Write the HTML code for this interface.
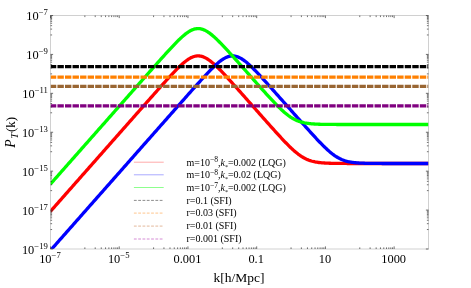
<!DOCTYPE html><html><head><meta charset="utf-8"><style>html,body{margin:0;padding:0;background:#fff}svg{display:block;will-change:transform;opacity:0.999}text{font-family:"Liberation Serif",serif;fill:#000}</style></head><body>
<svg width="471" height="288" viewBox="0 0 471 288">
<rect width="471" height="288" fill="#fff"/>
<defs><clipPath id="c"><rect x="50.50" y="15.50" width="378.00" height="233.50"/></clipPath></defs>
<g clip-path="url(#c)" fill="none" stroke-width="3.3" stroke-linejoin="round">
<path d="M50.50,211.34 L51.44,210.27 L52.39,209.20 L53.33,208.13 L54.28,207.06 L55.23,205.99 L56.17,204.92 L57.11,203.85 L58.06,202.78 L59.00,201.71 L59.95,200.64 L60.90,199.57 L61.84,198.50 L62.78,197.43 L63.73,196.36 L64.67,195.29 L65.62,194.22 L66.57,193.15 L67.51,192.08 L68.45,191.01 L69.40,189.94 L70.34,188.87 L71.29,187.80 L72.24,186.73 L73.18,185.66 L74.12,184.59 L75.07,183.52 L76.01,182.45 L76.96,181.38 L77.91,180.31 L78.85,179.24 L79.80,178.16 L80.74,177.09 L81.69,176.02 L82.63,174.95 L83.58,173.88 L84.52,172.81 L85.47,171.74 L86.41,170.67 L87.35,169.60 L88.30,168.53 L89.24,167.46 L90.19,166.39 L91.14,165.32 L92.08,164.25 L93.03,163.18 L93.97,162.11 L94.92,161.04 L95.86,159.97 L96.81,158.90 L97.75,157.83 L98.69,156.76 L99.64,155.69 L100.58,154.62 L101.53,153.55 L102.48,152.48 L103.42,151.41 L104.37,150.34 L105.31,149.27 L106.26,148.20 L107.20,147.13 L108.15,146.06 L109.09,144.99 L110.03,143.92 L110.98,142.85 L111.92,141.78 L112.87,140.71 L113.82,139.64 L114.76,138.57 L115.70,137.50 L116.65,136.43 L117.59,135.36 L118.54,134.29 L119.49,133.22 L120.43,132.15 L121.38,131.08 L122.32,130.01 L123.27,128.94 L124.21,127.87 L125.15,126.80 L126.10,125.73 L127.05,124.66 L127.99,123.59 L128.94,122.52 L129.88,121.45 L130.83,120.38 L131.77,119.31 L132.72,118.24 L133.66,117.17 L134.61,116.10 L135.55,115.03 L136.50,113.96 L137.44,112.89 L138.38,111.82 L139.33,110.75 L140.28,109.68 L141.22,108.61 L142.17,107.54 L143.11,106.47 L144.06,105.40 L145.00,104.33 L145.94,103.27 L146.89,102.20 L147.83,101.13 L148.78,100.06 L149.73,99.00 L150.67,97.93 L151.62,96.86 L152.56,95.80 L153.51,94.73 L154.45,93.67 L155.40,92.60 L156.34,91.54 L157.29,90.48 L158.23,89.42 L159.18,88.36 L160.12,87.30 L161.06,86.24 L162.01,85.19 L162.96,84.14 L163.90,83.09 L164.85,82.04 L165.79,81.00 L166.74,79.96 L167.68,78.92 L168.62,77.89 L169.57,76.86 L170.52,75.84 L171.46,74.82 L172.41,73.82 L173.35,72.82 L174.30,71.83 L175.24,70.85 L176.19,69.88 L177.13,68.92 L178.07,67.98 L179.02,67.06 L179.97,66.15 L180.91,65.26 L181.86,64.40 L182.80,63.56 L183.75,62.75 L184.69,61.96 L185.64,61.22 L186.58,60.50 L187.53,59.83 L188.47,59.20 L189.42,58.61 L190.36,58.08 L191.31,57.59 L192.25,57.17 L193.20,56.80 L194.14,56.49 L195.09,56.24 L196.03,56.06 L196.98,55.95 L197.92,55.90 L198.87,55.92 L199.81,56.01 L200.75,56.17 L201.70,56.39 L202.65,56.67 L203.59,57.02 L204.54,57.42 L205.48,57.89 L206.43,58.40 L207.37,58.97 L208.32,59.58 L209.26,60.24 L210.21,60.94 L211.15,61.67 L212.09,62.44 L213.04,63.25 L213.99,64.07 L214.93,64.93 L215.88,65.81 L216.82,66.71 L217.77,67.63 L218.71,68.56 L219.66,69.51 L220.60,70.47 L221.55,71.45 L222.49,72.44 L223.44,73.43 L224.38,74.44 L225.33,75.45 L226.27,76.47 L227.22,77.50 L228.16,78.53 L229.11,79.56 L230.05,80.60 L231.00,81.64 L231.94,82.69 L232.89,83.74 L233.83,84.79 L234.78,85.84 L235.72,86.90 L236.67,87.95 L237.61,89.01 L238.56,90.07 L239.50,91.13 L240.45,92.20 L241.39,93.26 L242.34,94.32 L243.28,95.39 L244.23,96.45 L245.17,97.52 L246.12,98.58 L247.06,99.65 L248.00,100.72 L248.95,101.79 L249.90,102.85 L250.84,103.92 L251.79,104.99 L252.73,106.05 L253.68,107.12 L254.62,108.19 L255.57,109.26 L256.51,110.33 L257.46,111.39 L258.40,112.46 L259.35,113.53 L260.29,114.59 L261.24,115.66 L262.18,116.72 L263.12,117.79 L264.07,118.86 L265.01,119.92 L265.96,120.98 L266.91,122.05 L267.85,123.11 L268.80,124.17 L269.74,125.23 L270.69,126.28 L271.63,127.34 L272.58,128.39 L273.52,129.45 L274.47,130.50 L275.41,131.54 L276.36,132.59 L277.30,133.63 L278.25,134.67 L279.19,135.70 L280.13,136.73 L281.08,137.75 L282.02,138.76 L282.97,139.77 L283.92,140.78 L284.86,141.77 L285.81,142.75 L286.75,143.72 L287.70,144.69 L288.64,145.63 L289.59,146.57 L290.53,147.49 L291.48,148.39 L292.42,149.27 L293.37,150.13 L294.31,150.97 L295.25,151.78 L296.20,152.57 L297.15,153.33 L298.09,154.07 L299.04,154.77 L299.98,155.45 L300.93,156.09 L301.87,156.70 L302.82,157.27 L303.76,157.81 L304.71,158.32 L305.65,158.79 L306.60,159.23 L307.54,159.64 L308.49,160.02 L309.43,160.37 L310.38,160.68 L311.32,160.97 L312.27,161.24 L313.21,161.48 L314.16,161.69 L315.10,161.89 L316.05,162.07 L316.99,162.22 L317.94,162.37 L318.88,162.49 L319.83,162.61 L320.77,162.71 L321.72,162.80 L322.66,162.88 L323.61,162.95 L324.55,163.01 L325.50,163.07 L326.44,163.12 L327.38,163.16 L328.33,163.20 L329.28,163.24 L330.22,163.27 L331.17,163.30 L332.11,163.32 L333.06,163.34 L334.00,163.36 L334.95,163.38 L335.89,163.39 L336.84,163.40 L337.78,163.42 L338.73,163.43 L339.67,163.43 L340.62,163.44 L341.56,163.45 L342.51,163.46 L343.45,163.46 L344.40,163.47 L345.34,163.47 L346.29,163.47 L347.23,163.48 L348.18,163.48 L349.12,163.48 L350.06,163.48 L351.01,163.49 L351.96,163.49 L352.90,163.49 L353.85,163.49 L354.79,163.49 L355.74,163.49 L356.68,163.49 L357.63,163.49 L358.57,163.49 L359.52,163.50 L360.46,163.50 L361.41,163.50 L362.35,163.50 L363.30,163.50 L364.24,163.50 L365.19,163.50 L366.13,163.50 L367.08,163.50 L368.02,163.50 L368.97,163.50 L369.91,163.50 L370.86,163.50 L371.80,163.50 L372.75,163.50 L373.69,163.50 L374.63,163.50 L375.58,163.50 L376.53,163.50 L377.47,163.50 L378.42,163.50 L379.36,163.50 L380.31,163.50 L381.25,163.50 L382.20,163.50 L383.14,163.50 L384.09,163.50 L385.03,163.50 L385.98,163.50 L386.92,163.50 L387.87,163.50 L388.81,163.50 L389.76,163.50 L390.70,163.50 L391.65,163.50 L392.59,163.50 L393.54,163.50 L394.48,163.50 L395.43,163.50 L396.37,163.50 L397.31,163.50 L398.26,163.50 L399.21,163.50 L400.15,163.50 L401.10,163.50 L402.04,163.50 L402.99,163.50 L403.93,163.50 L404.88,163.50 L405.82,163.50 L406.77,163.50 L407.71,163.50 L408.66,163.50 L409.60,163.50 L410.55,163.50 L411.49,163.50 L412.44,163.50 L413.38,163.50 L414.33,163.50 L415.27,163.50 L416.22,163.50 L417.16,163.50 L418.11,163.50 L419.05,163.50 L420.00,163.50 L420.94,163.50 L421.88,163.50 L422.83,163.50 L423.78,163.50 L424.72,163.50 L425.67,163.50 L426.61,163.50 L427.56,163.50 L428.50,163.50" stroke="#ff0000"/>
<path d="M50.50,250.41 L51.44,249.34 L52.39,248.27 L53.33,247.20 L54.28,246.13 L55.23,245.06 L56.17,243.99 L57.11,242.92 L58.06,241.85 L59.00,240.78 L59.95,239.71 L60.90,238.64 L61.84,237.57 L62.78,236.50 L63.73,235.43 L64.67,234.36 L65.62,233.29 L66.57,232.22 L67.51,231.15 L68.45,230.08 L69.40,229.01 L70.34,227.94 L71.29,226.87 L72.24,225.80 L73.18,224.73 L74.12,223.66 L75.07,222.59 L76.01,221.52 L76.96,220.45 L77.91,219.38 L78.85,218.31 L79.80,217.24 L80.74,216.17 L81.69,215.10 L82.63,214.03 L83.58,212.96 L84.52,211.88 L85.47,210.81 L86.41,209.74 L87.35,208.67 L88.30,207.60 L89.24,206.53 L90.19,205.46 L91.14,204.39 L92.08,203.32 L93.03,202.25 L93.97,201.18 L94.92,200.11 L95.86,199.04 L96.81,197.97 L97.75,196.90 L98.69,195.83 L99.64,194.76 L100.58,193.69 L101.53,192.62 L102.48,191.55 L103.42,190.48 L104.37,189.41 L105.31,188.34 L106.26,187.27 L107.20,186.20 L108.15,185.13 L109.09,184.06 L110.03,182.99 L110.98,181.92 L111.92,180.85 L112.87,179.78 L113.82,178.71 L114.76,177.64 L115.70,176.57 L116.65,175.50 L117.59,174.43 L118.54,173.36 L119.49,172.29 L120.43,171.22 L121.38,170.15 L122.32,169.08 L123.27,168.01 L124.21,166.94 L125.15,165.87 L126.10,164.80 L127.05,163.73 L127.99,162.66 L128.94,161.59 L129.88,160.51 L130.83,159.44 L131.77,158.37 L132.72,157.30 L133.66,156.23 L134.61,155.16 L135.55,154.09 L136.50,153.02 L137.44,151.95 L138.38,150.88 L139.33,149.81 L140.28,148.74 L141.22,147.67 L142.17,146.60 L143.11,145.53 L144.06,144.46 L145.00,143.39 L145.94,142.32 L146.89,141.25 L147.83,140.18 L148.78,139.11 L149.73,138.04 L150.67,136.97 L151.62,135.90 L152.56,134.83 L153.51,133.76 L154.45,132.69 L155.40,131.62 L156.34,130.55 L157.29,129.48 L158.23,128.41 L159.18,127.34 L160.12,126.27 L161.06,125.20 L162.01,124.13 L162.96,123.06 L163.90,121.99 L164.85,120.92 L165.79,119.85 L166.74,118.78 L167.68,117.71 L168.62,116.64 L169.57,115.57 L170.52,114.50 L171.46,113.43 L172.41,112.36 L173.35,111.29 L174.30,110.22 L175.24,109.15 L176.19,108.08 L177.13,107.01 L178.07,105.95 L179.02,104.88 L179.97,103.81 L180.91,102.74 L181.86,101.67 L182.80,100.60 L183.75,99.54 L184.69,98.47 L185.64,97.40 L186.58,96.34 L187.53,95.27 L188.47,94.21 L189.42,93.14 L190.36,92.08 L191.31,91.02 L192.25,89.96 L193.20,88.90 L194.14,87.84 L195.09,86.78 L196.03,85.73 L196.98,84.67 L197.92,83.62 L198.87,82.57 L199.81,81.53 L200.75,80.48 L201.70,79.45 L202.65,78.41 L203.59,77.38 L204.54,76.36 L205.48,75.34 L206.43,74.33 L207.37,73.32 L208.32,72.33 L209.26,71.34 L210.21,70.37 L211.15,69.40 L212.09,68.46 L213.04,67.52 L213.99,66.61 L214.93,65.71 L215.88,64.83 L216.82,63.98 L217.77,63.15 L218.71,62.36 L219.66,61.59 L220.60,60.86 L221.55,60.17 L222.49,59.51 L223.44,58.90 L224.38,58.34 L225.33,57.83 L226.27,57.38 L227.22,56.98 L228.16,56.64 L229.11,56.36 L230.05,56.15 L231.00,56.00 L231.94,55.92 L232.89,55.90 L233.83,55.96 L234.78,56.08 L235.72,56.27 L236.67,56.52 L237.61,56.83 L238.56,57.21 L239.50,57.65 L240.45,58.13 L241.39,58.68 L242.34,59.27 L243.28,59.90 L244.23,60.58 L245.17,61.30 L246.12,62.05 L247.06,62.83 L248.00,63.65 L248.95,64.49 L249.90,65.36 L250.84,66.25 L251.79,67.16 L252.73,68.08 L253.68,69.03 L254.62,69.98 L255.57,70.95 L256.51,71.94 L257.46,72.93 L258.40,73.93 L259.35,74.94 L260.29,75.95 L261.24,76.97 L262.18,78.00 L263.12,79.03 L264.07,80.07 L265.01,81.11 L265.96,82.16 L266.91,83.20 L267.85,84.25 L268.80,85.31 L269.74,86.36 L270.69,87.42 L271.63,88.48 L272.58,89.53 L273.52,90.60 L274.47,91.66 L275.41,92.72 L276.36,93.78 L277.30,94.85 L278.25,95.91 L279.19,96.98 L280.13,98.04 L281.08,99.11 L282.02,100.18 L282.97,101.24 L283.92,102.31 L284.86,103.38 L285.81,104.45 L286.75,105.51 L287.70,106.58 L288.64,107.65 L289.59,108.72 L290.53,109.78 L291.48,110.85 L292.42,111.92 L293.37,112.98 L294.31,114.05 L295.25,115.12 L296.20,116.18 L297.15,117.25 L298.09,118.31 L299.04,119.38 L299.98,120.44 L300.93,121.51 L301.87,122.57 L302.82,123.63 L303.76,124.69 L304.71,125.75 L305.65,126.80 L306.60,127.86 L307.54,128.91 L308.49,129.96 L309.43,131.01 L310.38,132.06 L311.32,133.10 L312.27,134.14 L313.21,135.17 L314.16,136.20 L315.10,137.23 L316.05,138.25 L316.99,139.26 L317.94,140.27 L318.88,141.27 L319.83,142.25 L320.77,143.23 L321.72,144.20 L322.66,145.15 L323.61,146.10 L324.55,147.02 L325.50,147.93 L326.44,148.82 L327.38,149.69 L328.33,150.54 L329.28,151.37 L330.22,152.17 L331.17,152.95 L332.11,153.70 L333.06,154.42 L334.00,155.11 L334.95,155.77 L335.89,156.39 L336.84,156.98 L337.78,157.54 L338.73,158.07 L339.67,158.56 L340.62,159.01 L341.56,159.44 L342.51,159.83 L343.45,160.19 L344.40,160.53 L345.34,160.83 L346.29,161.11 L347.23,161.36 L348.18,161.59 L349.12,161.79 L350.06,161.98 L351.01,162.15 L351.96,162.30 L352.90,162.43 L353.85,162.55 L354.79,162.66 L355.74,162.75 L356.68,162.84 L357.63,162.92 L358.57,162.98 L359.52,163.04 L360.46,163.10 L361.41,163.14 L362.35,163.18 L363.30,163.22 L364.24,163.25 L365.19,163.28 L366.13,163.31 L367.08,163.33 L368.02,163.35 L368.97,163.37 L369.91,163.38 L370.86,163.40 L371.80,163.41 L372.75,163.42 L373.69,163.43 L374.63,163.44 L375.58,163.45 L376.53,163.45 L377.47,163.46 L378.42,163.46 L379.36,163.47 L380.31,163.47 L381.25,163.47 L382.20,163.48 L383.14,163.48 L384.09,163.48 L385.03,163.48 L385.98,163.49 L386.92,163.49 L387.87,163.49 L388.81,163.49 L389.76,163.49 L390.70,163.49 L391.65,163.49 L392.59,163.49 L393.54,163.50 L394.48,163.50 L395.43,163.50 L396.37,163.50 L397.31,163.50 L398.26,163.50 L399.21,163.50 L400.15,163.50 L401.10,163.50 L402.04,163.50 L402.99,163.50 L403.93,163.50 L404.88,163.50 L405.82,163.50 L406.77,163.50 L407.71,163.50 L408.66,163.50 L409.60,163.50 L410.55,163.50 L411.49,163.50 L412.44,163.50 L413.38,163.50 L414.33,163.50 L415.27,163.50 L416.22,163.50 L417.16,163.50 L418.11,163.50 L419.05,163.50 L420.00,163.50 L420.94,163.50 L421.88,163.50 L422.83,163.50 L423.78,163.50 L424.72,163.50 L425.67,163.50 L426.61,163.50 L427.56,163.50 L428.50,163.50" stroke="#0000ff"/>
<path d="M50.50,184.04 L51.44,182.97 L52.39,181.90 L53.33,180.83 L54.28,179.76 L55.23,178.69 L56.17,177.62 L57.11,176.55 L58.06,175.48 L59.00,174.41 L59.95,173.34 L60.90,172.27 L61.84,171.20 L62.78,170.13 L63.73,169.06 L64.67,167.99 L65.62,166.92 L66.57,165.85 L67.51,164.78 L68.45,163.71 L69.40,162.64 L70.34,161.57 L71.29,160.50 L72.24,159.43 L73.18,158.36 L74.12,157.29 L75.07,156.22 L76.01,155.15 L76.96,154.08 L77.91,153.01 L78.85,151.93 L79.80,150.86 L80.74,149.79 L81.69,148.72 L82.63,147.65 L83.58,146.58 L84.52,145.51 L85.47,144.44 L86.41,143.37 L87.35,142.30 L88.30,141.23 L89.24,140.16 L90.19,139.09 L91.14,138.02 L92.08,136.95 L93.03,135.88 L93.97,134.81 L94.92,133.74 L95.86,132.67 L96.81,131.60 L97.75,130.53 L98.69,129.46 L99.64,128.39 L100.58,127.32 L101.53,126.25 L102.48,125.18 L103.42,124.11 L104.37,123.04 L105.31,121.97 L106.26,120.90 L107.20,119.83 L108.15,118.76 L109.09,117.69 L110.03,116.62 L110.98,115.55 L111.92,114.48 L112.87,113.41 L113.82,112.34 L114.76,111.27 L115.70,110.20 L116.65,109.13 L117.59,108.06 L118.54,106.99 L119.49,105.92 L120.43,104.85 L121.38,103.78 L122.32,102.71 L123.27,101.64 L124.21,100.57 L125.15,99.50 L126.10,98.43 L127.05,97.36 L127.99,96.29 L128.94,95.22 L129.88,94.15 L130.83,93.08 L131.77,92.01 L132.72,90.94 L133.66,89.87 L134.61,88.80 L135.55,87.73 L136.50,86.66 L137.44,85.59 L138.38,84.52 L139.33,83.45 L140.28,82.38 L141.22,81.31 L142.17,80.24 L143.11,79.17 L144.06,78.10 L145.00,77.03 L145.94,75.97 L146.89,74.90 L147.83,73.83 L148.78,72.76 L149.73,71.70 L150.67,70.63 L151.62,69.56 L152.56,68.50 L153.51,67.43 L154.45,66.37 L155.40,65.30 L156.34,64.24 L157.29,63.18 L158.23,62.12 L159.18,61.06 L160.12,60.00 L161.06,58.94 L162.01,57.89 L162.96,56.84 L163.90,55.79 L164.85,54.74 L165.79,53.70 L166.74,52.66 L167.68,51.62 L168.62,50.59 L169.57,49.56 L170.52,48.54 L171.46,47.52 L172.41,46.52 L173.35,45.52 L174.30,44.53 L175.24,43.55 L176.19,42.58 L177.13,41.62 L178.07,40.68 L179.02,39.76 L179.97,38.85 L180.91,37.96 L181.86,37.10 L182.80,36.26 L183.75,35.45 L184.69,34.66 L185.64,33.92 L186.58,33.20 L187.53,32.53 L188.47,31.90 L189.42,31.31 L190.36,30.78 L191.31,30.29 L192.25,29.87 L193.20,29.50 L194.14,29.19 L195.09,28.94 L196.03,28.76 L196.98,28.65 L197.92,28.60 L198.87,28.62 L199.81,28.71 L200.75,28.87 L201.70,29.09 L202.65,29.37 L203.59,29.72 L204.54,30.12 L205.48,30.59 L206.43,31.10 L207.37,31.67 L208.32,32.28 L209.26,32.94 L210.21,33.64 L211.15,34.37 L212.09,35.14 L213.04,35.95 L213.99,36.77 L214.93,37.63 L215.88,38.51 L216.82,39.41 L217.77,40.33 L218.71,41.26 L219.66,42.21 L220.60,43.17 L221.55,44.15 L222.49,45.14 L223.44,46.13 L224.38,47.14 L225.33,48.15 L226.27,49.17 L227.22,50.19 L228.16,51.22 L229.11,52.26 L230.05,53.30 L231.00,54.34 L231.94,55.39 L232.89,56.44 L233.83,57.49 L234.78,58.54 L235.72,59.59 L236.67,60.65 L237.61,61.71 L238.56,62.77 L239.50,63.83 L240.45,64.89 L241.39,65.95 L242.34,67.02 L243.28,68.08 L244.23,69.14 L245.17,70.21 L246.12,71.27 L247.06,72.34 L248.00,73.40 L248.95,74.47 L249.90,75.53 L250.84,76.60 L251.79,77.66 L252.73,78.73 L253.68,79.79 L254.62,80.85 L255.57,81.92 L256.51,82.98 L257.46,84.04 L258.40,85.10 L259.35,86.16 L260.29,87.22 L261.24,88.27 L262.18,89.33 L263.12,90.38 L264.07,91.43 L265.01,92.47 L265.96,93.52 L266.91,94.56 L267.85,95.60 L268.80,96.63 L269.74,97.66 L270.69,98.68 L271.63,99.70 L272.58,100.71 L273.52,101.71 L274.47,102.70 L275.41,103.69 L276.36,104.66 L277.30,105.62 L278.25,106.57 L279.19,107.51 L280.13,108.42 L281.08,109.33 L282.02,110.21 L282.97,111.07 L283.92,111.91 L284.86,112.73 L285.81,113.52 L286.75,114.28 L287.70,115.02 L288.64,115.73 L289.59,116.40 L290.53,117.05 L291.48,117.66 L292.42,118.23 L293.37,118.78 L294.31,119.29 L295.25,119.76 L296.20,120.21 L297.15,120.62 L298.09,120.99 L299.04,121.34 L299.98,121.66 L300.93,121.95 L301.87,122.22 L302.82,122.46 L303.76,122.68 L304.71,122.88 L305.65,123.05 L306.60,123.21 L307.54,123.36 L308.49,123.48 L309.43,123.60 L310.38,123.70 L311.32,123.79 L312.27,123.87 L313.21,123.95 L314.16,124.01 L315.10,124.07 L316.05,124.12 L316.99,124.16 L317.94,124.20 L318.88,124.24 L319.83,124.27 L320.77,124.29 L321.72,124.32 L322.66,124.34 L323.61,124.36 L324.55,124.38 L325.50,124.39 L326.44,124.40 L327.38,124.41 L328.33,124.42 L329.28,124.43 L330.22,124.44 L331.17,124.45 L332.11,124.45 L333.06,124.46 L334.00,124.46 L334.95,124.47 L335.89,124.47 L336.84,124.48 L337.78,124.48 L338.73,124.48 L339.67,124.48 L340.62,124.49 L341.56,124.49 L342.51,124.49 L343.45,124.49 L344.40,124.49 L345.34,124.49 L346.29,124.49 L347.23,124.49 L348.18,124.49 L349.12,124.50 L350.06,124.50 L351.01,124.50 L351.96,124.50 L352.90,124.50 L353.85,124.50 L354.79,124.50 L355.74,124.50 L356.68,124.50 L357.63,124.50 L358.57,124.50 L359.52,124.50 L360.46,124.50 L361.41,124.50 L362.35,124.50 L363.30,124.50 L364.24,124.50 L365.19,124.50 L366.13,124.50 L367.08,124.50 L368.02,124.50 L368.97,124.50 L369.91,124.50 L370.86,124.50 L371.80,124.50 L372.75,124.50 L373.69,124.50 L374.63,124.50 L375.58,124.50 L376.53,124.50 L377.47,124.50 L378.42,124.50 L379.36,124.50 L380.31,124.50 L381.25,124.50 L382.20,124.50 L383.14,124.50 L384.09,124.50 L385.03,124.50 L385.98,124.50 L386.92,124.50 L387.87,124.50 L388.81,124.50 L389.76,124.50 L390.70,124.50 L391.65,124.50 L392.59,124.50 L393.54,124.50 L394.48,124.50 L395.43,124.50 L396.37,124.50 L397.31,124.50 L398.26,124.50 L399.21,124.50 L400.15,124.50 L401.10,124.50 L402.04,124.50 L402.99,124.50 L403.93,124.50 L404.88,124.50 L405.82,124.50 L406.77,124.50 L407.71,124.50 L408.66,124.50 L409.60,124.50 L410.55,124.50 L411.49,124.50 L412.44,124.50 L413.38,124.50 L414.33,124.50 L415.27,124.50 L416.22,124.50 L417.16,124.50 L418.11,124.50 L419.05,124.50 L420.00,124.50 L420.94,124.50 L421.88,124.50 L422.83,124.50 L423.78,124.50 L424.72,124.50 L425.67,124.50 L426.61,124.50 L427.56,124.50 L428.50,124.50" stroke="#00ff00"/>
<path d="M50.50,66.70 H428.50" stroke="#000000" stroke-dasharray="6.4 1.15" stroke-dashoffset="0.62" stroke-width="3.2"/>
<path d="M50.50,77.20 H428.50" stroke="#ff8000" stroke-dasharray="6.4 1.15" stroke-dashoffset="0.62" stroke-width="3.2"/>
<path d="M50.50,86.30 H428.50" stroke="#996633" stroke-dasharray="6.4 1.15" stroke-dashoffset="0.62" stroke-width="3.2"/>
<path d="M50.50,105.80 H428.50" stroke="#800080" stroke-dasharray="6.4 1.15" stroke-dashoffset="0.62" stroke-width="3.2"/>
</g>
<rect x="50.50" y="15.50" width="378.00" height="233.50" fill="none" stroke="#8f8f8f" stroke-width="0.42"/>
<path d="M50.50,249.00 v-2.6 M50.50,15.50 v2.6 M84.86,249.00 v-1.6 M84.86,15.50 v1.6 M95.21,249.00 v-1.6 M95.21,15.50 v1.6 M101.26,249.00 v-1.6 M101.26,15.50 v1.6 M105.55,249.00 v-1.6 M105.55,15.50 v1.6 M108.88,249.00 v-1.6 M108.88,15.50 v1.6 M111.60,249.00 v-1.6 M111.60,15.50 v1.6 M113.90,249.00 v-1.6 M113.90,15.50 v1.6 M115.90,249.00 v-1.6 M115.90,15.50 v1.6 M117.65,249.00 v-1.6 M117.65,15.50 v1.6 M119.23,249.00 v-2.6 M119.23,15.50 v2.6 M153.59,249.00 v-1.6 M153.59,15.50 v1.6 M163.94,249.00 v-1.6 M163.94,15.50 v1.6 M169.99,249.00 v-1.6 M169.99,15.50 v1.6 M174.28,249.00 v-1.6 M174.28,15.50 v1.6 M177.61,249.00 v-1.6 M177.61,15.50 v1.6 M180.33,249.00 v-1.6 M180.33,15.50 v1.6 M182.63,249.00 v-1.6 M182.63,15.50 v1.6 M184.62,249.00 v-1.6 M184.62,15.50 v1.6 M186.38,249.00 v-1.6 M186.38,15.50 v1.6 M187.95,249.00 v-2.6 M187.95,15.50 v2.6 M222.32,249.00 v-1.6 M222.32,15.50 v1.6 M232.66,249.00 v-1.6 M232.66,15.50 v1.6 M238.71,249.00 v-1.6 M238.71,15.50 v1.6 M243.01,249.00 v-1.6 M243.01,15.50 v1.6 M246.34,249.00 v-1.6 M246.34,15.50 v1.6 M249.06,249.00 v-1.6 M249.06,15.50 v1.6 M251.36,249.00 v-1.6 M251.36,15.50 v1.6 M253.35,249.00 v-1.6 M253.35,15.50 v1.6 M255.11,249.00 v-1.6 M255.11,15.50 v1.6 M256.68,249.00 v-2.6 M256.68,15.50 v2.6 M291.05,249.00 v-1.6 M291.05,15.50 v1.6 M301.39,249.00 v-1.6 M301.39,15.50 v1.6 M307.44,249.00 v-1.6 M307.44,15.50 v1.6 M311.73,249.00 v-1.6 M311.73,15.50 v1.6 M315.06,249.00 v-1.6 M315.06,15.50 v1.6 M317.79,249.00 v-1.6 M317.79,15.50 v1.6 M320.09,249.00 v-1.6 M320.09,15.50 v1.6 M322.08,249.00 v-1.6 M322.08,15.50 v1.6 M323.84,249.00 v-1.6 M323.84,15.50 v1.6 M325.41,249.00 v-2.6 M325.41,15.50 v2.6 M359.77,249.00 v-1.6 M359.77,15.50 v1.6 M370.12,249.00 v-1.6 M370.12,15.50 v1.6 M376.17,249.00 v-1.6 M376.17,15.50 v1.6 M380.46,249.00 v-1.6 M380.46,15.50 v1.6 M383.79,249.00 v-1.6 M383.79,15.50 v1.6 M386.51,249.00 v-1.6 M386.51,15.50 v1.6 M388.81,249.00 v-1.6 M388.81,15.50 v1.6 M390.81,249.00 v-1.6 M390.81,15.50 v1.6 M392.56,249.00 v-1.6 M392.56,15.50 v1.6 M394.14,249.00 v-2.6 M394.14,15.50 v2.6 M50.50,249.00 h2.6 M428.50,249.00 h-2.6 M50.50,229.54 h1.6 M428.50,229.54 h-1.6 M50.50,223.68 h1.6 M428.50,223.68 h-1.6 M50.50,220.26 h1.6 M428.50,220.26 h-1.6 M50.50,217.83 h1.6 M428.50,217.83 h-1.6 M50.50,215.94 h1.6 M428.50,215.94 h-1.6 M50.50,214.40 h1.6 M428.50,214.40 h-1.6 M50.50,213.10 h1.6 M428.50,213.10 h-1.6 M50.50,211.97 h1.6 M428.50,211.97 h-1.6 M50.50,210.97 h1.6 M428.50,210.97 h-1.6 M50.50,210.08 h2.6 M428.50,210.08 h-2.6 M50.50,190.62 h1.6 M428.50,190.62 h-1.6 M50.50,184.77 h1.6 M428.50,184.77 h-1.6 M50.50,181.34 h1.6 M428.50,181.34 h-1.6 M50.50,178.91 h1.6 M428.50,178.91 h-1.6 M50.50,177.02 h1.6 M428.50,177.02 h-1.6 M50.50,175.48 h1.6 M428.50,175.48 h-1.6 M50.50,174.18 h1.6 M428.50,174.18 h-1.6 M50.50,173.05 h1.6 M428.50,173.05 h-1.6 M50.50,172.06 h1.6 M428.50,172.06 h-1.6 M50.50,171.17 h2.6 M428.50,171.17 h-2.6 M50.50,151.71 h1.6 M428.50,151.71 h-1.6 M50.50,145.85 h1.6 M428.50,145.85 h-1.6 M50.50,142.42 h1.6 M428.50,142.42 h-1.6 M50.50,139.99 h1.6 M428.50,139.99 h-1.6 M50.50,138.11 h1.6 M428.50,138.11 h-1.6 M50.50,136.57 h1.6 M428.50,136.57 h-1.6 M50.50,135.26 h1.6 M428.50,135.26 h-1.6 M50.50,134.14 h1.6 M428.50,134.14 h-1.6 M50.50,133.14 h1.6 M428.50,133.14 h-1.6 M50.50,132.25 h2.6 M428.50,132.25 h-2.6 M50.50,112.79 h1.6 M428.50,112.79 h-1.6 M50.50,106.93 h1.6 M428.50,106.93 h-1.6 M50.50,103.51 h1.6 M428.50,103.51 h-1.6 M50.50,101.08 h1.6 M428.50,101.08 h-1.6 M50.50,99.19 h1.6 M428.50,99.19 h-1.6 M50.50,97.65 h1.6 M428.50,97.65 h-1.6 M50.50,96.35 h1.6 M428.50,96.35 h-1.6 M50.50,95.22 h1.6 M428.50,95.22 h-1.6 M50.50,94.22 h1.6 M428.50,94.22 h-1.6 M50.50,93.33 h2.6 M428.50,93.33 h-2.6 M50.50,73.88 h1.6 M428.50,73.88 h-1.6 M50.50,68.02 h1.6 M428.50,68.02 h-1.6 M50.50,64.59 h1.6 M428.50,64.59 h-1.6 M50.50,62.16 h1.6 M428.50,62.16 h-1.6 M50.50,60.27 h1.6 M428.50,60.27 h-1.6 M50.50,58.73 h1.6 M428.50,58.73 h-1.6 M50.50,57.43 h1.6 M428.50,57.43 h-1.6 M50.50,56.30 h1.6 M428.50,56.30 h-1.6 M50.50,55.31 h1.6 M428.50,55.31 h-1.6 M50.50,54.42 h2.6 M428.50,54.42 h-2.6 M50.50,34.96 h1.6 M428.50,34.96 h-1.6 M50.50,29.10 h1.6 M428.50,29.10 h-1.6 M50.50,25.67 h1.6 M428.50,25.67 h-1.6 M50.50,23.24 h1.6 M428.50,23.24 h-1.6 M50.50,21.36 h1.6 M428.50,21.36 h-1.6 M50.50,19.82 h1.6 M428.50,19.82 h-1.6 M50.50,18.51 h1.6 M428.50,18.51 h-1.6 M50.50,17.39 h1.6 M428.50,17.39 h-1.6 M50.50,16.39 h1.6 M428.50,16.39 h-1.6 M50.50,15.50 h2.6 M428.50,15.50 h-2.6" stroke="#333" stroke-width="0.7" fill="none"/>
<text x="47.9" y="253.60" font-size="12.4" text-anchor="end">10<tspan dy="-4.8" font-size="8.7">−19</tspan></text>
<text x="47.9" y="214.68" font-size="12.4" text-anchor="end">10<tspan dy="-4.8" font-size="8.7">−17</tspan></text>
<text x="47.9" y="175.77" font-size="12.4" text-anchor="end">10<tspan dy="-4.8" font-size="8.7">−15</tspan></text>
<text x="47.9" y="136.85" font-size="12.4" text-anchor="end">10<tspan dy="-4.8" font-size="8.7">−13</tspan></text>
<text x="47.9" y="97.93" font-size="12.4" text-anchor="end">10<tspan dy="-4.8" font-size="8.7">−11</tspan></text>
<text x="47.9" y="59.02" font-size="12.4" text-anchor="end">10<tspan dy="-4.8" font-size="8.7">−9</tspan></text>
<text x="47.9" y="20.10" font-size="12.4" text-anchor="end">10<tspan dy="-4.8" font-size="8.7">−7</tspan></text>
<text x="50.00" y="263" font-size="12.4" text-anchor="middle">10<tspan dy="-4.8" font-size="8.7">−7</tspan></text>
<text x="118.73" y="263" font-size="12.4" text-anchor="middle">10<tspan dy="-4.8" font-size="8.7">−5</tspan></text>
<text x="187.45" y="263" font-size="12.4" text-anchor="middle">0.001</text>
<text x="256.18" y="263" font-size="12.4" text-anchor="middle">0.1</text>
<text x="324.91" y="263" font-size="12.4" text-anchor="middle">10</text>
<text x="393.64" y="263" font-size="12.4" text-anchor="middle">1000</text>
<text x="213.6" y="281.5" font-size="13.5">k[h/Mpc]</text>
<text transform="translate(15.3,147.7) rotate(-90)" font-size="14"><tspan font-style="italic" font-size="13.8">P</tspan><tspan font-style="italic" font-size="10.6" dy="2.5" dx="0.5">T</tspan><tspan dy="-2.5" dx="0.9" font-size="13">(k)</tspan></text>
<path d="M133.9,162.20 H163.7" stroke="#ffa0a0" stroke-width="0.9" fill="none" />
<text x="186.5" y="165.50" font-size="10">m=10<tspan dy="-3.3" font-size="7.6">−8</tspan><tspan dy="3.3">,</tspan><tspan font-style="italic">k</tspan><tspan dy="3.2" font-size="6">*</tspan><tspan dy="-3.2">=0.002 (LQG)</tspan></text>
<path d="M133.9,174.80 H163.7" stroke="#a0a0ff" stroke-width="0.9" fill="none" />
<text x="186.5" y="178.10" font-size="10">m=10<tspan dy="-3.3" font-size="7.6">−8</tspan><tspan dy="3.3">,</tspan><tspan font-style="italic">k</tspan><tspan dy="3.2" font-size="6">*</tspan><tspan dy="-3.2">=0.02 (LQG)</tspan></text>
<path d="M133.9,187.50 H163.7" stroke="#80ff80" stroke-width="0.9" fill="none" />
<text x="186.5" y="190.80" font-size="10">m=10<tspan dy="-3.3" font-size="7.6">−7</tspan><tspan dy="3.3">,</tspan><tspan font-style="italic">k</tspan><tspan dy="3.2" font-size="6">*</tspan><tspan dy="-3.2">=0.002 (LQG)</tspan></text>
<path d="M133.9,200.40 H163.7" stroke="#808080" stroke-width="0.9" fill="none" stroke-dasharray="2.8 1.5"/>
<text x="186.5" y="203.70" font-size="10">r=0.1 (SFI)</text>
<path d="M133.9,213.10 H163.7" stroke="#ffc080" stroke-width="0.9" fill="none" stroke-dasharray="2.8 1.5"/>
<text x="186.5" y="216.40" font-size="10">r=0.03 (SFI)</text>
<path d="M133.9,226.10 H163.7" stroke="#e0b090" stroke-width="0.9" fill="none" stroke-dasharray="2.8 1.5"/>
<text x="186.5" y="229.40" font-size="10">r=0.01 (SFI)</text>
<path d="M133.9,239.00 H163.7" stroke="#d080d0" stroke-width="0.9" fill="none" stroke-dasharray="2.8 1.5"/>
<text x="186.5" y="242.30" font-size="10">r=0.001 (SFI)</text>
</svg></body></html>
